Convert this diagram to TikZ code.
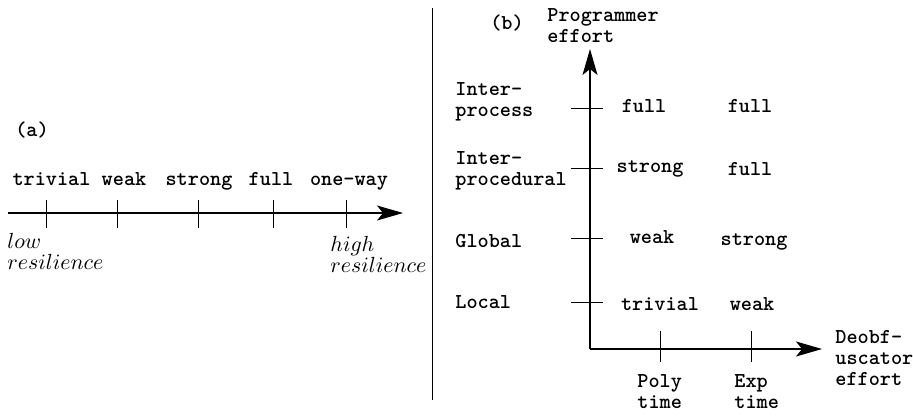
\documentclass[tikz,border=0pt]{standalone}
\usetikzlibrary{arrows.meta}
\begin{document}
\begin{tikzpicture}[x=0.5pt,y=-0.5pt,
  lbl/.style={font=\fontsize{10.6}{10.5}\selectfont\ttfamily\bfseries,inner sep=0pt},
  blk/.style={lbl,align=left},
  itl/.style={font=\fontsize{10.6}{10.5}\selectfont,inner sep=0pt,align=left},
  axis/.style={line width=0.55pt,-{Stealth[length=13pt,width=7.5pt,inset=3pt]}},
  tick/.style={line width=0.45pt}]
\useasboundingbox (0,0) rectangle (913,418);
% divider
\coordinate (d1) at (432,8);
\coordinate (d2) at (432,400);
\draw[tick] (d1) -- (d2);
% ---------- (a)
\node[lbl,anchor=base] (la) at (32,136) {(a)};
\coordinate (a0) at (8,213);
\coordinate (a1) at (403,213);
\draw[axis] (a0) -- (a1);
\foreach \n/\x in {t1/46,t2/117,t3/198,t4/273,t5/346}{
  \coordinate (\n u) at (\x,200);
  \coordinate (\n d) at (\x,228);
  \draw[tick] (\n u) -- (\n d);
}
\node[lbl,anchor=base] (atriv) at (51.5,185) {trivial};
\node[lbl,anchor=base] (aweak) at (124,185) {weak};
\node[lbl,anchor=base] (astrong) at (199,185) {strong};
\node[lbl,anchor=base] (afull) at (271,185) {full};
\node[lbl,anchor=base] (aone) at (349,185) {one-way};
\node[itl,anchor=west] (low) at (7,251.5) {$low$\\$resilience$};
\node[itl,anchor=west] (high) at (330,254) {$high$\\$resilience$};
% ---------- (b)
\node[lbl,anchor=base] (lb) at (507,29) {(b)};
\node[blk,anchor=west] (prog) at (547,26) {Programmer\\effort};
\coordinate (o) at (590,349);
\coordinate (ytip) at (590,49);
\coordinate (xtip) at (822,349);
\draw[axis] (o) -- (ytip);
\draw[axis] (o) -- (xtip);
\foreach \n/\y in {r1/108,r2/168,r3/238,r4/302}{
  \coordinate (\n l) at (571,\y);
  \coordinate (\n r) at (603,\y);
  \draw[tick] (\n l) -- (\n r);
}
\foreach \n/\x in {c1/660,c2/751}{
  \coordinate (\n u) at (\x,331);
  \coordinate (\n d) at (\x,362);
  \draw[tick] (\n u) -- (\n d);
}
\node[blk,anchor=west] (iproc) at (455,101.5) {Inter-\\process};
\node[blk,anchor=west] (iprocd) at (455,171) {Inter-\\procedural};
\node[lbl,anchor=base west] (glob) at (455,247) {Global};
\node[lbl,anchor=base west] (loc) at (455,308) {Local};
\node[lbl,anchor=base] (f11) at (644,112) {full};
\node[lbl,anchor=base] (f12) at (750,112) {full};
\node[lbl,anchor=base] (f21) at (650,172) {strong};
\node[lbl,anchor=base] (f22) at (750,175) {full};
\node[lbl,anchor=base] (f31) at (652,243) {weak};
\node[lbl,anchor=base] (f32) at (754,245) {strong};
\node[lbl,anchor=base] (f41) at (660,310) {trivial};
\node[lbl,anchor=base] (f42) at (752,310) {weak};
\node[blk,anchor=west] (poly) at (637,392) {Poly\\time};
\node[blk,anchor=west] (exp) at (734,392) {Exp\\time};
\node[blk,anchor=west] (deob) at (835,358) {Deobf-\\uscator\\effort};
\end{tikzpicture}
\end{document}
